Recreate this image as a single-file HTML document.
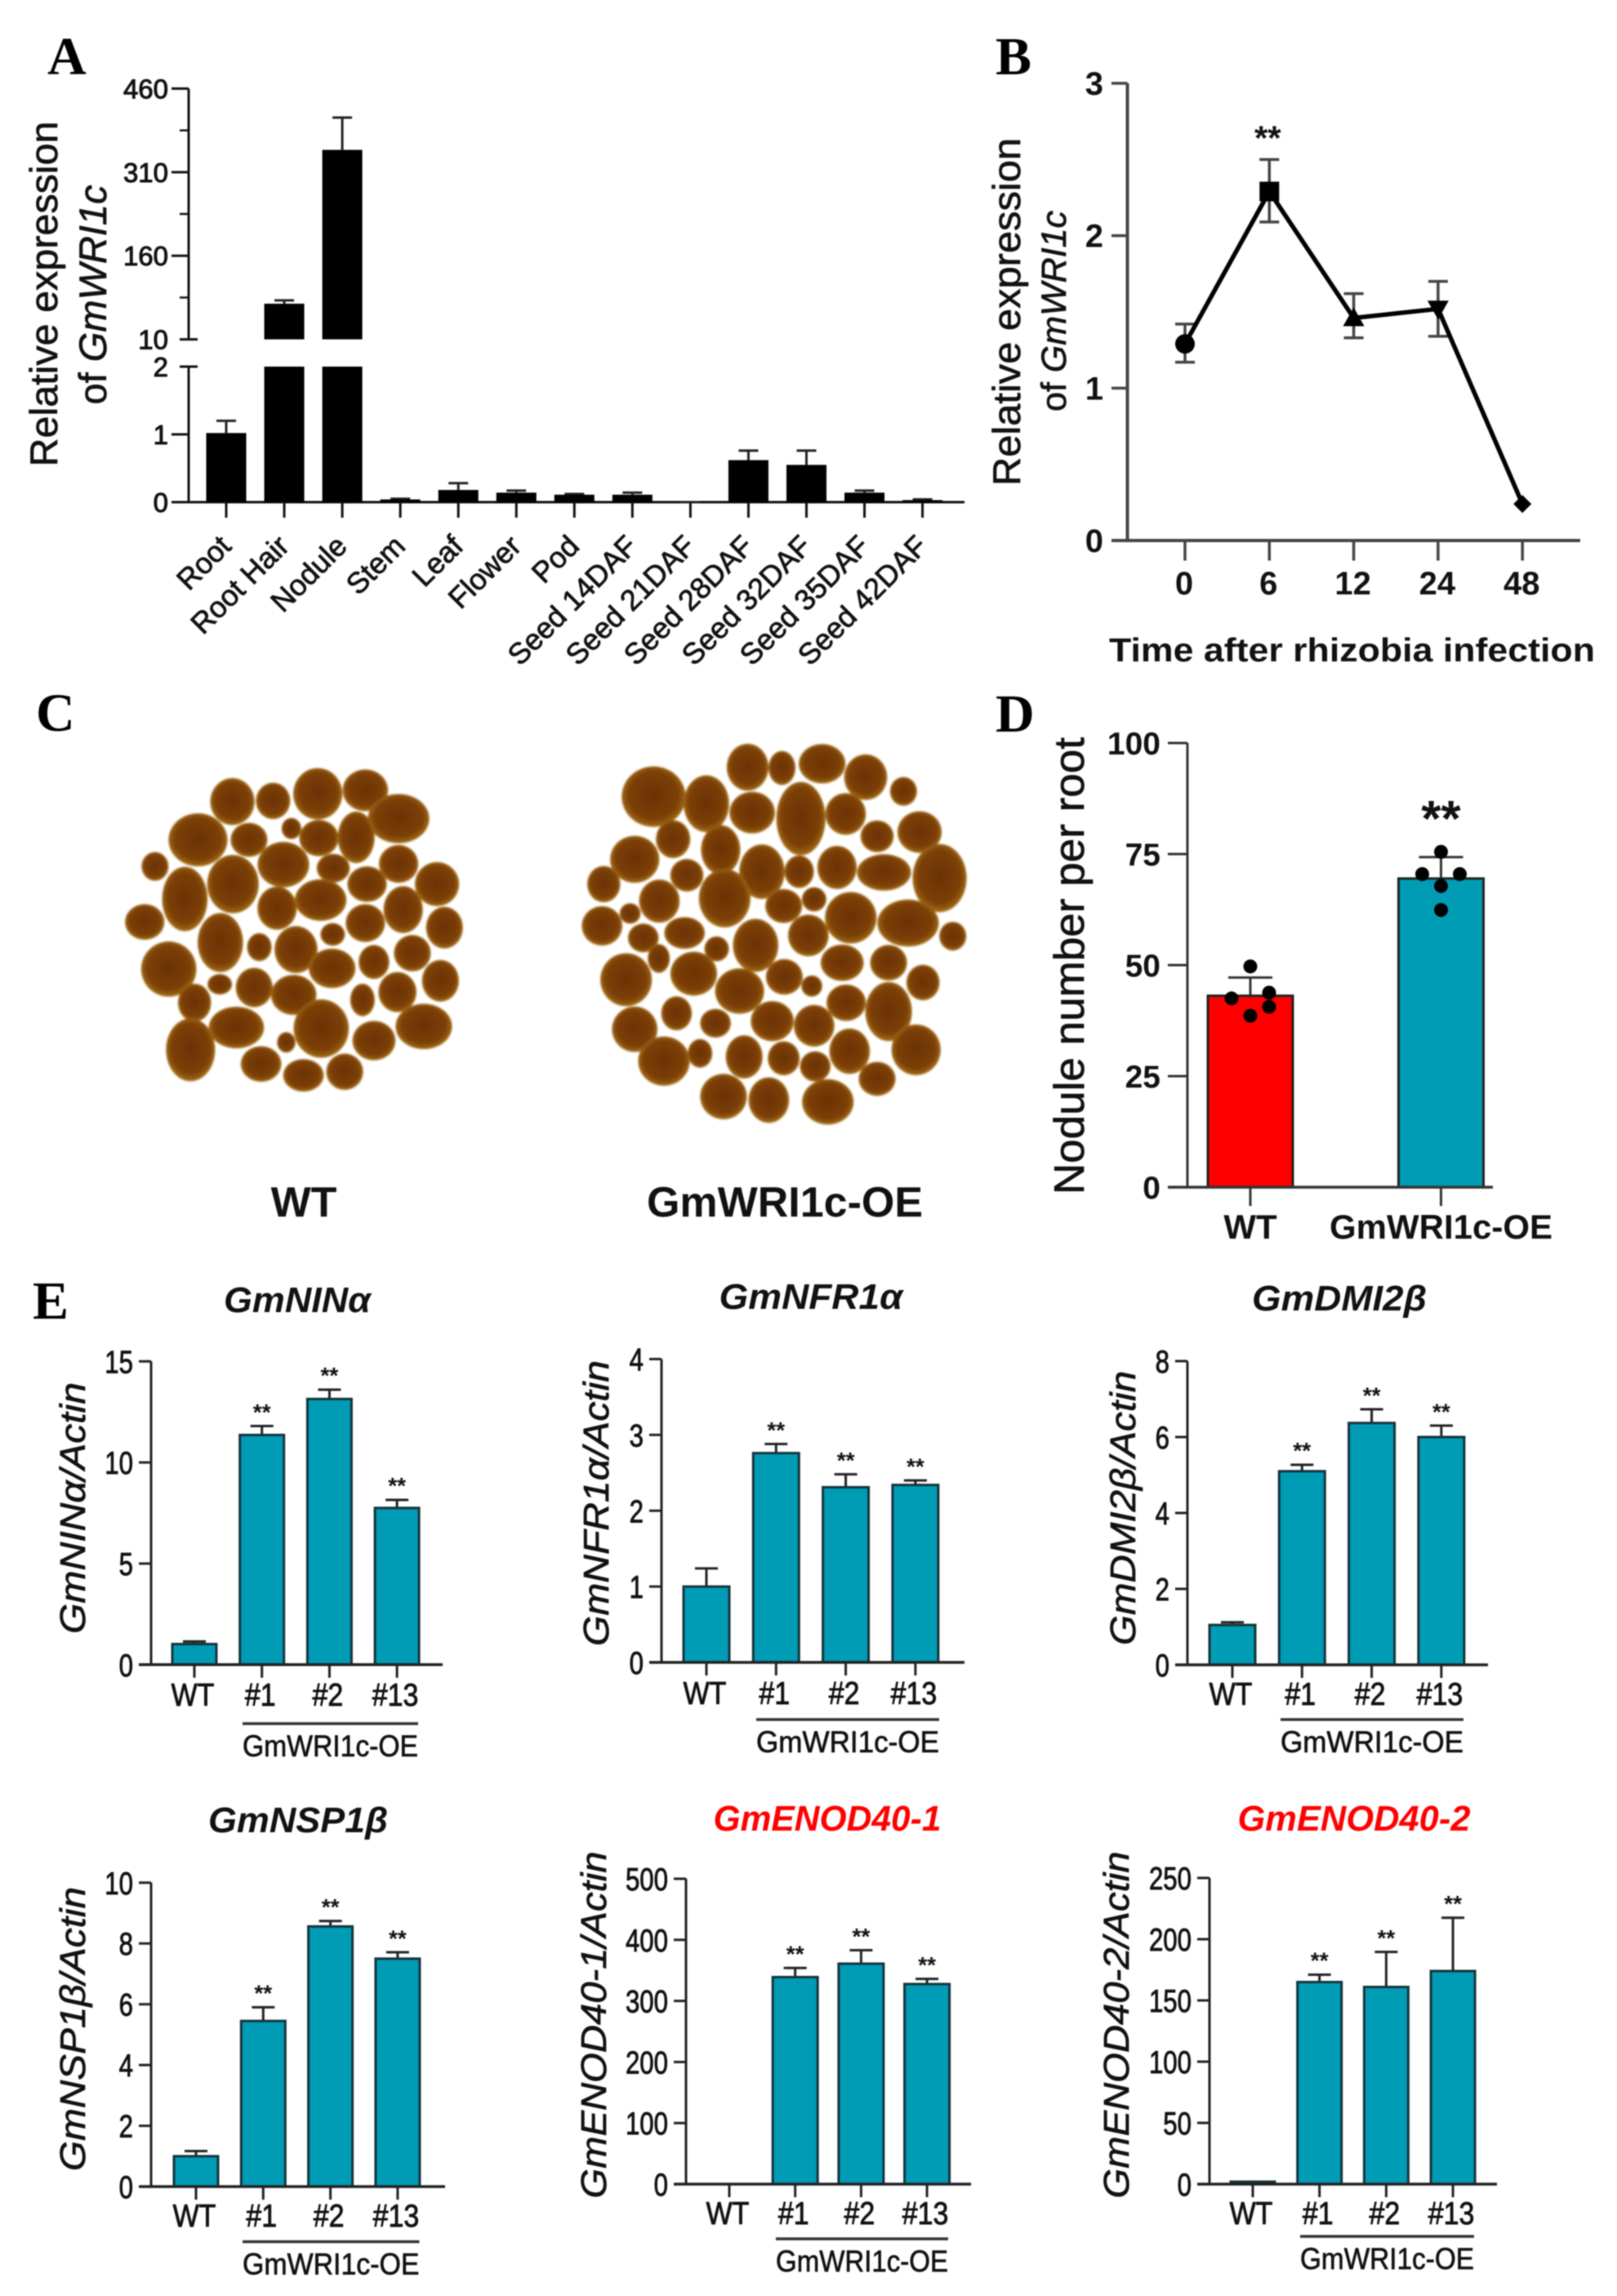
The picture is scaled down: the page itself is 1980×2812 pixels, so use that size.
<!DOCTYPE html>
<html lang="en">
<head>
<meta charset="utf-8">
<title>GmWRI1c expression and nodulation figure</title>
<style>
  html, body { margin: 0; padding: 0; background: #fff; }
  svg { display: block; filter: blur(0.85px); }
  text { font-family: "Liberation Sans", sans-serif; fill: #111; }
  .letter { font-family: "Liberation Serif", serif; font-weight: bold; font-size: 66px; fill: #000; }
  .ytitle { font-size: 47px; text-anchor: middle; stroke: #111; stroke-width: .7px; }
  .etitle { font-size: 44px; font-style: italic; text-anchor: middle; stroke: #111; stroke-width: .7px; }
  .gene { font-size: 44px; font-style: italic; font-weight: bold; text-anchor: middle; }
  .red { fill: #ff0000; }
  .cap { font-size: 52px; font-weight: bold; text-anchor: middle; }
</style>
</head>
<body>
<svg id="figure" xmlns="http://www.w3.org/2000/svg" width="1980" height="2812" viewBox="0 0 1980 2812">
  <defs>
    <radialGradient id="noduleFill" cx="50%" cy="48%" r="55%">
      <stop offset="0%" stop-color="#6a3205"/>
      <stop offset="70%" stop-color="#7c3f07"/>
      <stop offset="90%" stop-color="#9a6412"/>
      <stop offset="100%" stop-color="#cfa050"/>
    </radialGradient>
  </defs>
  <rect width="1980" height="2812" fill="#fff"/>

  <text class="letter" x="58" y="91">A</text>
  <text class="letter" x="1219" y="91">B</text>
  <text class="letter" x="44" y="895">C</text>
  <text class="letter" x="1219" y="896">D</text>
  <text class="letter" x="40" y="1615">E</text>

  <g id="panelA">
    <text class="ytitle" transform="translate(70,360) rotate(-90)" textLength="423" lengthAdjust="spacingAndGlyphs">Relative expression</text>
    <text class="ytitle" transform="translate(130,361) rotate(-90)">of <tspan font-style="italic">GmWRI1c</tspan></text>
  </g>

  <g id="panelB">
    <text class="ytitle" transform="translate(1249,382) rotate(-90)" textLength="426" lengthAdjust="spacingAndGlyphs">Relative expression</text>
    <text class="ytitle" transform="translate(1305,381) rotate(-90)" style="font-size:43px">of <tspan font-style="italic">GmWRI1c</tspan></text>
    <text x="1358" y="810" font-size="41" font-weight="bold" textLength="595" lengthAdjust="spacingAndGlyphs">Time after rhizobia infection</text>
  </g>

  <g id="panelC">
    <g id="photoWt" style="filter:blur(1px)"></g>
    <g id="photoOe" style="filter:blur(1px)"></g>
    <text class="cap" x="372" y="1490">WT</text>
    <text class="cap" x="961" y="1490">GmWRI1c-OE</text>
  </g>

  <g id="panelD">
    <text transform="translate(1327,1183) rotate(-90)" font-size="52" text-anchor="middle" stroke="#111" stroke-width=".7" textLength="560" lengthAdjust="spacingAndGlyphs">Nodule number per root</text>
  </g>

  <g id="chartNin">
    <text class="gene" x="364" y="1607" textLength="180" lengthAdjust="spacingAndGlyphs">GmNINα</text>
    <text class="etitle" transform="translate(104,1847) rotate(-90)" textLength="308" lengthAdjust="spacingAndGlyphs">GmNINα/Actin</text>
  </g>
  <g id="chartNfr">
    <text class="gene" x="993" y="1603" textLength="225" lengthAdjust="spacingAndGlyphs">GmNFR1α</text>
    <text class="etitle" transform="translate(745,1841) rotate(-90)" textLength="350" lengthAdjust="spacingAndGlyphs">GmNFR1α/Actin</text>
  </g>
  <g id="chartDmi">
    <text class="gene" x="1640" y="1605" textLength="214" lengthAdjust="spacingAndGlyphs">GmDMI2β</text>
    <text class="etitle" transform="translate(1390,1847) rotate(-90)" textLength="336" lengthAdjust="spacingAndGlyphs">GmDMI2β/Actin</text>
  </g>
  <g id="chartNsp">
    <text class="gene" x="365" y="2244" textLength="220" lengthAdjust="spacingAndGlyphs">GmNSP1β</text>
    <text class="etitle" transform="translate(104,2485) rotate(-90)" textLength="348" lengthAdjust="spacingAndGlyphs">GmNSP1β/Actin</text>
  </g>
  <g id="chartEnod1">
    <text class="gene red" x="1013" y="2242" textLength="279" lengthAdjust="spacingAndGlyphs">GmENOD40-1</text>
    <text class="etitle" transform="translate(742,2480) rotate(-90)" textLength="425" lengthAdjust="spacingAndGlyphs">GmENOD40-1/Actin</text>
  </g>
  <g id="chartEnod2">
    <text class="gene red" x="1658" y="2242" textLength="285" lengthAdjust="spacingAndGlyphs">GmENOD40-2</text>
    <text class="etitle" transform="translate(1382,2480) rotate(-90)" textLength="425" lengthAdjust="spacingAndGlyphs">GmENOD40-2/Actin</text>
  </g>
</svg>

<script>
/* ---------- chart data ---------- */
const tissueCategories = ['Root','Root Hair','Nodule','Stem','Leaf','Flower','Pod','Seed 14DAF','Seed 21DAF','Seed 28DAF','Seed 32DAF','Seed 35DAF','Seed 42DAF'];
const tissueMeans = [1.02, 74, 350, 0.04, 0.18, 0.14, 0.11, 0.11, 0, 0.62, 0.55, 0.14, 0.03];
const tissueErrorTops = [1.2, 80, 408, 0.05, 0.28, 0.17, 0.12, 0.14, 0, 0.76, 0.76, 0.17, 0.04];
const tissueUpperTicks = [10, 160, 310, 460];
const tissueUpperMinorTicks = [85, 235, 385];
const tissueLowerTicks = [0, 1, 2];

const timeCategories = ['0','6','12','24','48'];
const timeMeans = [1.29, 2.29, 1.46, 1.52, 0.24];
const timeErrorHigh = [1.42, 2.5, 1.62, 1.7, 0.24];
const timeErrorLow = [1.17, 2.09, 1.33, 1.34, 0.24];
const timeYTicks = [0, 1, 2, 3];

const noduleCategories = ['WT','GmWRI1c-OE'];
const noduleMeans = [43.1, 69.5];
const noduleErrorTops = [47.2, 74.3];
const noduleWtPoints = [49.7, 42.5, 43.8, 40.6, 38.6];
const noduleOePoints = [75.5, 70.5, 70.5, 67.8, 62.4];
const noduleYTicks = [0, 25, 50, 75, 100];

const lineLabels = ['WT','#1','#2','#13'];
const groupLabel = 'GmWRI1c-OE';

const ninValues = [1.02, 11.36, 13.14, 7.75];
const ninErrorTops = [1.15, 11.8, 13.6, 8.15];
const ninTicks = [0, 5, 10, 15];

const nfrValues = [1.0, 2.76, 2.31, 2.34];
const nfrErrorTops = [1.24, 2.88, 2.48, 2.40];
const nfrTicks = [0, 1, 2, 3, 4];

const dmiValues = [1.05, 5.1, 6.37, 6.0];
const dmiErrorTops = [1.12, 5.27, 6.73, 6.3];
const dmiTicks = [0, 2, 4, 6, 8];

const nspValues = [1.0, 5.45, 8.56, 7.5];
const nspErrorTops = [1.17, 5.9, 8.74, 7.71];
const nspTicks = [0, 2, 4, 6, 8, 10];

const enod1Values = [0, 339, 361, 327.6];
const enod1ErrorTops = [0, 354, 383, 336];
const enod1Ticks = [0, 100, 200, 300, 400, 500];

const enod2Values = [2, 165, 161, 174];
const enod2ErrorTops = [2, 171, 189.6, 217.5];
const enod2Ticks = [0, 50, 100, 150, 200, 250];

/* ---------- drawing helpers ---------- */
const NS = 'http://www.w3.org/2000/svg';

function mk(tag, parent, name, attrs) {
  const el = document.createElementNS(NS, tag);
  
  
  for (const k in attrs) el.setAttribute(k, attrs[k]);
  parent.appendChild(el);
  return el;
}
function line(parent, name, x1, y1, x2, y2, w, color) {
  return mk('line', parent, name, { x1: x1, y1: y1, x2: x2, y2: y2, stroke: color, 'stroke-width': w });
}
function label(parent, name, str, x, y, o) {
  const rot = o.rotate ? ' rotate(' + o.rotate + ')' : '';
  const sx = o.sx ? ' scale(' + o.sx + ',1)' : '';
  const el = mk('text', parent, name, {
    transform: 'translate(' + x + ',' + y + ')' + rot + sx,
    'text-anchor': o.anchor || 'middle',
    'font-size': o.size,
    'font-weight': o.weight || 'normal',
    stroke: '#111',
    'stroke-width': o.stroke || 0
  });
  el.textContent = str;
  return el;
}
function stars(parent, name, cx, cy, size) {
  label(parent, name, '**', cx, cy + size * 0.58, { size: size, weight: 'bold' });
}

/* ---------- panel A: broken-axis bar chart ---------- */
(function () {
  const g = document.getElementById('panelA');
  const axisX = 231, y0 = 615, breakLow = 449, breakHigh = 415.6, top = 108.5;
  const lowerMax = 2, upperMin = 10, upperMax = 460;
  const yLow = v => y0 - (y0 - breakLow) * v / lowerMax;
  const yUp = v => breakHigh - (breakHigh - top) * (v - upperMin) / (upperMax - upperMin);
  const y = v => v <= lowerMax ? yLow(v) : yUp(v);
  const xAt = i => 277 + i * 71.05;
  const barW = 49, color = '#111';

  line(g, 'y-axis-upper', axisX, top, axisX, breakHigh, 3, color);
  line(g, 'y-axis-lower', axisX, breakLow, axisX, y0, 3, color);
  line(g, 'x-axis', 210, y0, 1181, y0, 3, color);

  tissueUpperTicks.forEach(t => {
    line(g, 'y-tick', t === upperMin ? 220 : 210, yUp(t), t === upperMin ? 242 : axisX, yUp(t), 3, color);
    label(g, 'y-tick-label', String(t), 206, yUp(t) + 12, { size: 33, anchor: 'end', stroke: 1 });
  });
  tissueUpperMinorTicks.forEach(t => line(g, 'y-minor-tick', 220, yUp(t), axisX, yUp(t), 2.5, color));
  tissueLowerTicks.forEach(t => {
    line(g, 'y-tick', t === lowerMax ? 220 : 210, yLow(t), t === lowerMax ? 242 : axisX, yLow(t), 3, color);
    label(g, 'y-tick-label', String(t), 206, yLow(t) + 12, { size: 33, anchor: 'end', stroke: 1 });
  });

  tissueCategories.forEach((c, i) => {
    const x = xAt(i), v = tissueMeans[i], e = tissueErrorTops[i];
    line(g, 'x-tick', x, y0, x, 634, 3, color);
    label(g, 'x-tick-label', c, x + 8, 671, { size: 36, anchor: 'end', rotate: -45, stroke: .8 });
    line(g, 'error-bar', x, y(e), x, y(v), 3, '#222');
    line(g, 'error-cap', x - 12, y(e), x + 12, y(e), 3, '#222');
    if (v > lowerMax) {
      mk('rect', g, 'bar-lower', { x: x - barW / 2, y: breakLow, width: barW, height: y0 - breakLow, fill: '#000' });
      mk('rect', g, 'bar-upper', { x: x - barW / 2, y: yUp(v), width: barW, height: breakHigh - yUp(v), fill: '#000' });
    } else {
      mk('rect', g, 'bar', { x: x - barW / 2, y: yLow(v), width: barW, height: y0 - yLow(v), fill: '#000' });
    }
  });
})();

/* ---------- panel B: line chart ---------- */
(function () {
  const g = document.getElementById('panelB');
  const axisX = 1380.5, y0 = 662, top = 102, maxV = 3;
  const y = v => y0 - (y0 - top) * v / maxV;
  const xAt = i => 1451 + i * 103.3;
  const color = '#444';

  line(g, 'y-axis', axisX, top, axisX, y0, 4, color);
  line(g, 'x-axis', 1361, y0, 1935, y0, 4, color);
  timeYTicks.forEach(t => {
    line(g, 'y-tick', 1361, y(t), axisX, y(t), 3.5, color);
    label(g, 'y-tick-label', String(t), 1351, y(t) + 14, { size: 40, anchor: 'end', weight: 'bold' });
  });
  timeCategories.forEach((c, i) => {
    line(g, 'x-tick', xAt(i), y0, xAt(i), 686.6, 3.5, color);
    label(g, 'x-tick-label', c, xAt(i) - 1, 728, { size: 40, weight: 'bold' });
  });
  timeCategories.forEach((c, i) => {
    if (timeErrorHigh[i] === timeErrorLow[i]) return;
    line(g, 'error-bar', xAt(i), y(timeErrorHigh[i]), xAt(i), y(timeErrorLow[i]), 3.5, '#444');
    line(g, 'error-cap-high', xAt(i) - 12, y(timeErrorHigh[i]), xAt(i) + 12, y(timeErrorHigh[i]), 3.5, '#444');
    line(g, 'error-cap-low', xAt(i) - 12, y(timeErrorLow[i]), xAt(i) + 12, y(timeErrorLow[i]), 3.5, '#444');
  });
  const pts = timeMeans.map((v, i) => xAt(i) + ',' + y(v)).join(' ');
  mk('polyline', g, 'expression-line', { points: pts, fill: 'none', stroke: '#000', 'stroke-width': 5.5 });

  timeMeans.forEach((v, i) => {
    const x = xAt(i), py = y(v);
    if (i === 0) mk('circle', g, 'point-circle', { cx: x, cy: py, r: 12, fill: '#000' });
    if (i === 1) mk('rect', g, 'point-square', { x: x - 12, y: py - 12, width: 24, height: 24, fill: '#000' });
    if (i === 2) mk('polygon', g, 'point-triangle', { points: [x, py - 13, x - 13, py + 10, x + 13, py + 10].join(','), fill: '#000' });
    if (i === 3) mk('polygon', g, 'point-inverted-triangle', { points: [x, py + 13, x - 13, py - 10, x + 13, py - 10].join(','), fill: '#000' });
    if (i === 4) mk('polygon', g, 'point-diamond', { points: [x, py - 11, x + 11, py, x, py + 11, x - 11, py].join(','), fill: '#000' });
  });
  stars(g, 'significance-stars', xAt(1) - 2, y(timeErrorHigh[1]) - 36, 42);
})();

/* ---------- panel D: bars with points ---------- */
(function () {
  const g = document.getElementById('panelD');
  const axisX = 1454, y0 = 1454, top = 910, maxV = 100;
  const y = v => y0 - (y0 - top) * v / maxV;
  const xAt = i => 1531 + i * 233.5;
  const barW = 104, color = '#333';
  const fills = ['#ff0000', '#009cb6'];
  const jitterWt = [0, -23, 23, 23, 0];
  const jitterOe = [0, -23, 23, 0, 0];

  line(g, 'y-axis', axisX, top, axisX, y0, 3, color);
  noduleYTicks.forEach(t => {
    line(g, 'y-tick', 1430, y(t), axisX, y(t), 3, color);
    label(g, 'y-tick-label', String(t), 1421, y(t) + 14, { size: 39, anchor: 'end', weight: 'bold' });
  });
  noduleCategories.forEach((c, i) => {
    const x = xAt(i);
    line(g, 'error-bar', x, y(noduleErrorTops[i]), x, y(noduleMeans[i]), 3, color);
    line(g, 'error-cap', x - 27, y(noduleErrorTops[i]), x + 27, y(noduleErrorTops[i]), 3, color);
    mk('rect', g, 'bar-' + (i ? 'oe' : 'wt'), { x: x - barW / 2, y: y(noduleMeans[i]), width: barW, height: y0 - y(noduleMeans[i]), fill: fills[i], stroke: '#222', 'stroke-width': 3 });
    line(g, 'x-tick', x, y0, x, 1477, 3, color);
    label(g, 'x-tick-label', c, x, 1517, { size: 42, weight: 'bold' });
  });
  line(g, 'x-axis', 1430, y0, 1828, y0, 3.5, color);
  noduleWtPoints.forEach((v, i) => mk('circle', g, 'wt-data-point', { cx: xAt(0) + jitterWt[i], cy: y(v), r: 8.5, fill: '#000' }));
  noduleOePoints.forEach((v, i) => mk('circle', g, 'oe-data-point', { cx: xAt(1) + jitterOe[i], cy: y(v), r: 8.5, fill: '#000' }));
  stars(g, 'significance-stars', xAt(1), 988, 62);
})();

/* ---------- panel E: six small bar charts ---------- */
function drawExpressionChart(id, key, values, errorTops, ticks, geo) {
  const g = document.getElementById(id);
  const y = v => geo.y0 - (geo.y0 - geo.top) * v / ticks[ticks.length - 1];
  const xAt = i => geo.x0 + i * geo.step;
  const color = '#222';
  const sx = 0.8;

  line(g, key + '-y-axis', geo.axisX, geo.top, geo.axisX, geo.y0, 3, color);
  ticks.forEach(t => {
    line(g, key + '-y-tick', geo.axisX - 15, y(t), geo.axisX, y(t), 3, color);
    label(g, key + '-y-tick-label', String(t), geo.axisX - 22, y(t) + 14, { size: 39, anchor: 'end', sx: sx, stroke: .9 });
  });
  lineLabels.forEach((c, i) => {
    const x = xAt(i), v = values[i], e = errorTops[i];
    if (e > v) {
      line(g, key + '-error-bar', x, y(e), x, y(v), 3, color);
      line(g, key + '-error-cap', x - 14, y(e), x + 14, y(e), 3, color);
    }
    mk('rect', g, key + '-bar', { x: x - geo.barW / 2, y: y(v), width: geo.barW, height: geo.y0 - y(v), fill: '#009cb6', stroke: '#15333b', 'stroke-width': 3 });
    line(g, key + '-x-tick', x, geo.y0, x, geo.y0 + 16, 3, color);
    label(g, key + '-x-tick-label', c, x - 2, geo.labelY, { size: 39, sx: 0.87, stroke: .9 });
    if (i > 0) stars(g, key + '-significance-stars', x, y(e) - 24, 28);
  });
  line(g, key + '-x-axis', geo.axisX - 15, geo.y0, geo.right, geo.y0, 3.5, color);
  line(g, key + '-group-bracket', geo.groupFrom, geo.groupY, geo.groupTo, geo.groupY, 3.5, '#333');
  const grp = label(g, key + '-group-label', groupLabel, (geo.groupFrom + geo.groupTo) / 2, geo.groupY + 40, { size: 37, stroke: .7 });
  grp.setAttribute('textLength', geo.groupTo - geo.groupFrom);
  grp.setAttribute('lengthAdjust', 'spacingAndGlyphs');
}

drawExpressionChart('chartNin', 'gmnin', ninValues, ninErrorTops, ninTicks,
  { axisX: 185, top: 1667.3, y0: 2038.8, right: 542, x0: 238, step: 82.7, barW: 54, labelY: 2089, groupY: 2111, groupFrom: 297, groupTo: 512 });
drawExpressionChart('chartNfr', 'gmnfr1', nfrValues, nfrErrorTops, nfrTicks,
  { axisX: 810, top: 1664.5, y0: 2036, right: 1181, x0: 865, step: 85.3, barW: 56, labelY: 2087, groupY: 2106, groupFrom: 926, groupTo: 1150 });
drawExpressionChart('chartDmi', 'gmdmi2', dmiValues, dmiErrorTops, dmiTicks,
  { axisX: 1454, top: 1667, y0: 2039, right: 1822, x0: 1509, step: 85.3, barW: 56, labelY: 2088, groupY: 2106, groupFrom: 1568, groupTo: 1792 });
drawExpressionChart('chartNsp', 'gmnsp1', nspValues, nspErrorTops, nspTicks,
  { axisX: 185, top: 2305.8, y0: 2678, right: 545, x0: 240, step: 82.3, barW: 54, labelY: 2727, groupY: 2745.5, groupFrom: 297, groupTo: 513.5 });
drawExpressionChart('chartEnod1', 'gmenod1', enod1Values, enod1ErrorTops, enod1Ticks,
  { axisX: 840, top: 2301, y0: 2675, right: 1189, x0: 893, step: 80.7, barW: 55, labelY: 2724, groupY: 2742, groupFrom: 950, groupTo: 1161 });
drawExpressionChart('chartEnod2', 'gmenod2', enod2Values, enod2ErrorTops, enod2Ticks,
  { axisX: 1534 - 53, top: 2300, y0: 2675, right: 1833, x0: 1534, step: 81.7, barW: 54, labelY: 2724, groupY: 2739, groupFrom: 1592, groupTo: 1805 });
</script>

<script>
/* Panel C is a photograph, not data: the nodules are illustrative ellipses. */
const photoWtShapes = [[263,327,36,62],[334,325,28,48],[412,305,40,68],[495,295,37,55],[553,375,50,65],[203,435,48,70],[292,435,30,45],[366,403,16,28],[414,430,32,48],[479,428,30,68],[128,510,22,38],[352,505,42,60],[439,515,27,38],[553,503,32,50],[180,602,37,85],[264,560,42,77],[341,628,32,57],[417,605,42,55],[498,560,32,47],[561,632,32,62],[620,560,36,58],[110,667,32,47],[242,725,37,78],[495,670,32,50],[633,683,30,55],[310,738,20,37],[374,745,35,62],[438,702,20,30],[510,780,25,45],[577,755,30,48],[152,800,45,73],[437,798,38,52],[626,833,30,55],[241,843,20,27],[301,852,30,52],[370,873,37,53],[551,865,31,53],[490,887,20,43],[197,895,27,50],[270,965,45,55],[418,968,45,77],[597,962,46,60],[510,1002,35,52],[357,1007,15,27],[190,1028,40,83],[313,1068,33,47],[387,1100,33,43],[459,1090,30,48]];
const photoOeShapes = [[998,313,52,80],[1090,333,37,75],[1162,230,34,62],[1222,232,22,45],[1292,220,38,52],[1368,258,35,60],[1434,298,22,38],[1170,358,37,55],[1255,375,40,97],[1333,362,33,55],[1032,433,28,50],[1115,463,32,65],[1388,425,27,42],[1462,413,36,55],[965,490,40,62],[1187,525,37,72],[1056,535,27,43],[1252,525,24,43],[1318,513,32,57],[1400,527,44,48],[1497,543,44,90],[911,560,27,48],[1122,600,42,77],[1008,608,33,57],[1225,622,30,45],[1278,603,20,32],[1342,655,42,68],[1442,670,50,62],[908,678,33,52],[957,643,17,27],[1052,698,33,42],[1268,705,33,55],[980,712,25,38],[1176,733,37,70],[1108,743,20,33],[1520,707,22,38],[1007,770,18,38],[1327,782,35,48],[1408,782,30,47],[950,830,42,70],[1068,813,38,58],[1148,862,40,60],[1226,822,30,47],[1274,848,17,28],[1468,838,27,47],[1334,895,32,48],[1408,920,38,78],[1038,925,25,45],[965,970,37,60],[1205,947,35,53],[1278,960,33,55],[1106,953,25,38],[1016,1060,42,65],[1079,1038,20,38],[1340,1032,33,60],[1156,1048,30,57],[1225,1052,26,45],[1280,1075,25,40],[1456,1028,40,67],[1388,1110,30,45],[1120,1160,38,60],[1199,1170,33,60],[1302,1175,42,60]];
function drawPhoto(id, shapes) {
  const g = document.getElementById(id);
  shapes.forEach(s => {
    const e = document.createElementNS('http://www.w3.org/2000/svg', 'ellipse');
    
    
    e.setAttribute('cx', s[0] / 1.425 + 100);
    e.setAttribute('cy', s[1] / 2.306 + 840);
    e.setAttribute('rx', 1.07 * s[2] / 1.425);
    e.setAttribute('ry', 1.07 * s[3] / 2.306);
    e.setAttribute('fill', 'url(#noduleFill)');
    g.appendChild(e);
  });
}
drawPhoto('photoWt', photoWtShapes);
drawPhoto('photoOe', photoOeShapes);
</script>
</body>
</html>
